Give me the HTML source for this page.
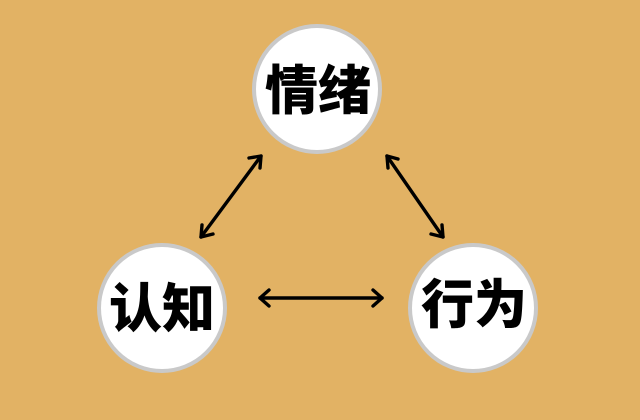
<!DOCTYPE html>
<html><head><meta charset="utf-8"><style>
html,body{margin:0;padding:0;background:#E2B264;}
svg{display:block}
text{font-family:"Liberation Sans","Noto Sans CJK SC",sans-serif;font-weight:900;font-size:53px;fill:#000;}
</style></head><body>
<svg width="640" height="420" viewBox="0 0 640 420" xmlns="http://www.w3.org/2000/svg">
<rect width="640" height="420" fill="#E2B264"/>
<g fill="#fff" stroke="#c9c9c9" stroke-width="4">
<circle cx="317" cy="89" r="63"/>
<circle cx="162" cy="308" r="63"/>
<circle cx="473" cy="308" r="63"/>
</g>
<g stroke="#000" stroke-width="3.4" fill="none" stroke-linecap="round" stroke-linejoin="round">
<line x1="261" y1="156" x2="201" y2="237"/>
<polyline points="249,158 261,156 260,168"/>
<polyline points="202,225 201,237 213,234"/>
<line x1="387" y1="156" x2="443" y2="237"/>
<polyline points="388,168 387,156 398,159"/>
<polyline points="431,234 443,237 442,225"/>
<line x1="260" y1="298" x2="382" y2="298"/>
<polyline points="269,290 260,298 269,306"/>
<polyline points="373,290 382,298 373,306"/>
</g>
<text x="318" y="109" text-anchor="middle">情绪</text>
<text x="162" y="327" text-anchor="middle">认知</text>
<text x="474" y="323" text-anchor="middle">行为</text>
</svg>
</body></html>
